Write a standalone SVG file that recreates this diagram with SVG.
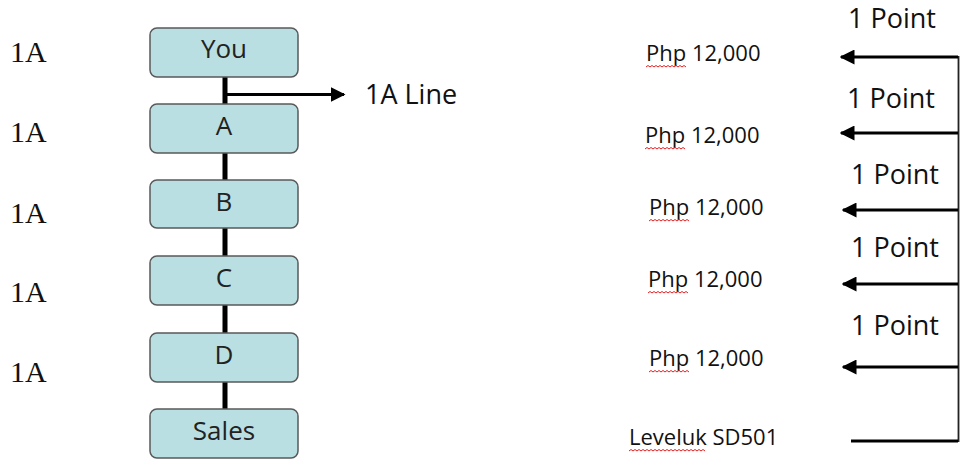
<svg xmlns="http://www.w3.org/2000/svg" width="960" height="461" viewBox="0 0 960 461">
<style>
.box{fill:#b9dfe3;stroke:#5a5a5a;stroke-width:1.5}
.lbl{font-family:"Open Sans","Liberation Sans",sans-serif;font-size:26px;fill:#222;text-anchor:middle}
.side{font-family:"Liberation Serif",serif;font-size:30px;fill:#111}
.pt{font-family:"Open Sans","Liberation Sans",sans-serif;font-size:27px;fill:#111}
.php{font-family:"Open Sans","Liberation Sans",sans-serif;font-size:22px;fill:#111}
.ln{stroke:#000;stroke-width:3;fill:none}
.sq{stroke:#e02020;stroke-width:1;fill:none}
</style>
<defs>
<marker id="ah" markerWidth="5" markerHeight="5" refX="4.5" refY="2.5" orient="auto" markerUnits="strokeWidth">
<path d="M0,0 L5,2.5 L0,5 Z" fill="#000"/>
</marker>
</defs>
<rect width="960" height="461" fill="#fff"/>
<g id="connectors">
<line class="ln" x1="225" y1="77" x2="225" y2="409" style="stroke-width:5"/>
<line class="ln" x1="225" y1="94.5" x2="344" y2="94.5" marker-end="url(#ah)"/>
<line x1="958.5" y1="56" x2="958.5" y2="442" stroke="#222" stroke-width="1.8"/>
<line class="ln" x1="958" y1="57" x2="841" y2="57" marker-end="url(#ah)"/>
<line class="ln" x1="958" y1="133" x2="841" y2="133" marker-end="url(#ah)"/>
<line class="ln" x1="958" y1="210" x2="843" y2="210" marker-end="url(#ah)"/>
<line class="ln" x1="958" y1="284" x2="843" y2="284" marker-end="url(#ah)"/>
<line class="ln" x1="958" y1="367" x2="843" y2="367" marker-end="url(#ah)"/>
<line class="ln" x1="851" y1="441" x2="958" y2="441"/>
</g>
<g id="you"><rect class="box" x="150" y="28" width="148" height="49" rx="7"/><text class="lbl" x="224" y="58">You</text></g>
<g id="a"><rect class="box" x="150" y="104" width="148" height="49" rx="7"/><text class="lbl" x="224" y="135">A</text></g>
<g id="b"><rect class="box" x="150" y="180" width="148" height="48" rx="7"/><text class="lbl" x="224" y="211">B</text></g>
<g id="c"><rect class="box" x="150" y="256" width="148" height="49" rx="7"/><text class="lbl" x="224" y="287">C</text></g>
<g id="d"><rect class="box" x="150" y="333" width="148" height="49" rx="7"/><text class="lbl" x="224" y="364">D</text></g>
<g id="sales"><rect class="box" x="150" y="409" width="148" height="49" rx="7"/><text class="lbl" x="224" y="440">Sales</text></g>
<g id="left-labels">
<text class="side" x="10" y="62">1A</text>
<text class="side" x="10" y="142">1A</text>
<text class="side" x="10" y="223">1A</text>
<text class="side" x="10" y="302">1A</text>
<text class="side" x="10" y="382">1A</text>
</g>
<text class="pt" x="365" y="104">1A Line</text>
<g id="points">
<text class="pt" x="848" y="28">1 Point</text>
<text class="pt" x="847" y="108">1 Point</text>
<text class="pt" x="851" y="184">1 Point</text>
<text class="pt" x="851" y="257">1 Point</text>
<text class="pt" x="851" y="335">1 Point</text>
</g>
<g id="amounts">
<text class="php" x="646" y="61">Php 12,000</text>
<text class="php" x="645" y="143">Php 12,000</text>
<text class="php" x="649" y="215">Php 12,000</text>
<text class="php" x="648" y="287">Php 12,000</text>
<text class="php" x="649" y="366">Php 12,000</text>
<text class="php" x="629" y="445">Leveluk SD501</text>
</g>
<g id="squiggles">
<path class="sq" d="M646,67 l2,-1.5 l2,1.5 l2,-1.5 l2,1.5 l2,-1.5 l2,1.5 l2,-1.5 l2,1.5 l2,-1.5 l2,1.5 l2,-1.5 l2,1.5 l2,-1.5 l2,1.5 l2,-1.5 l2,1.5 l2,-1.5 l2,1.5 l2,-1.5 l2,1.5"/>
<path class="sq" d="M645,149 l2,-1.5 l2,1.5 l2,-1.5 l2,1.5 l2,-1.5 l2,1.5 l2,-1.5 l2,1.5 l2,-1.5 l2,1.5 l2,-1.5 l2,1.5 l2,-1.5 l2,1.5 l2,-1.5 l2,1.5 l2,-1.5 l2,1.5 l2,-1.5 l2,1.5"/>
<path class="sq" d="M649,221 l2,-1.5 l2,1.5 l2,-1.5 l2,1.5 l2,-1.5 l2,1.5 l2,-1.5 l2,1.5 l2,-1.5 l2,1.5 l2,-1.5 l2,1.5 l2,-1.5 l2,1.5 l2,-1.5 l2,1.5 l2,-1.5 l2,1.5 l2,-1.5 l2,1.5"/>
<path class="sq" d="M648,293 l2,-1.5 l2,1.5 l2,-1.5 l2,1.5 l2,-1.5 l2,1.5 l2,-1.5 l2,1.5 l2,-1.5 l2,1.5 l2,-1.5 l2,1.5 l2,-1.5 l2,1.5 l2,-1.5 l2,1.5 l2,-1.5 l2,1.5 l2,-1.5 l2,1.5"/>
<path class="sq" d="M649,372 l2,-1.5 l2,1.5 l2,-1.5 l2,1.5 l2,-1.5 l2,1.5 l2,-1.5 l2,1.5 l2,-1.5 l2,1.5 l2,-1.5 l2,1.5 l2,-1.5 l2,1.5 l2,-1.5 l2,1.5 l2,-1.5 l2,1.5 l2,-1.5 l2,1.5"/>
<path class="sq" d="M629,451 l2,-1.5 l2,1.5 l2,-1.5 l2,1.5 l2,-1.5 l2,1.5 l2,-1.5 l2,1.5 l2,-1.5 l2,1.5 l2,-1.5 l2,1.5 l2,-1.5 l2,1.5 l2,-1.5 l2,1.5 l2,-1.5 l2,1.5 l2,-1.5 l2,1.5 l2,-1.5 l2,1.5 l2,-1.5 l2,1.5 l2,-1.5 l2,1.5 l2,-1.5 l2,1.5 l2,-1.5 l2,1.5 l2,-1.5 l2,1.5 l2,-1.5 l2,1.5 l2,-1.5 l2,1.5 l2,-1.5 l2,1.5"/>
</g>
</svg>
